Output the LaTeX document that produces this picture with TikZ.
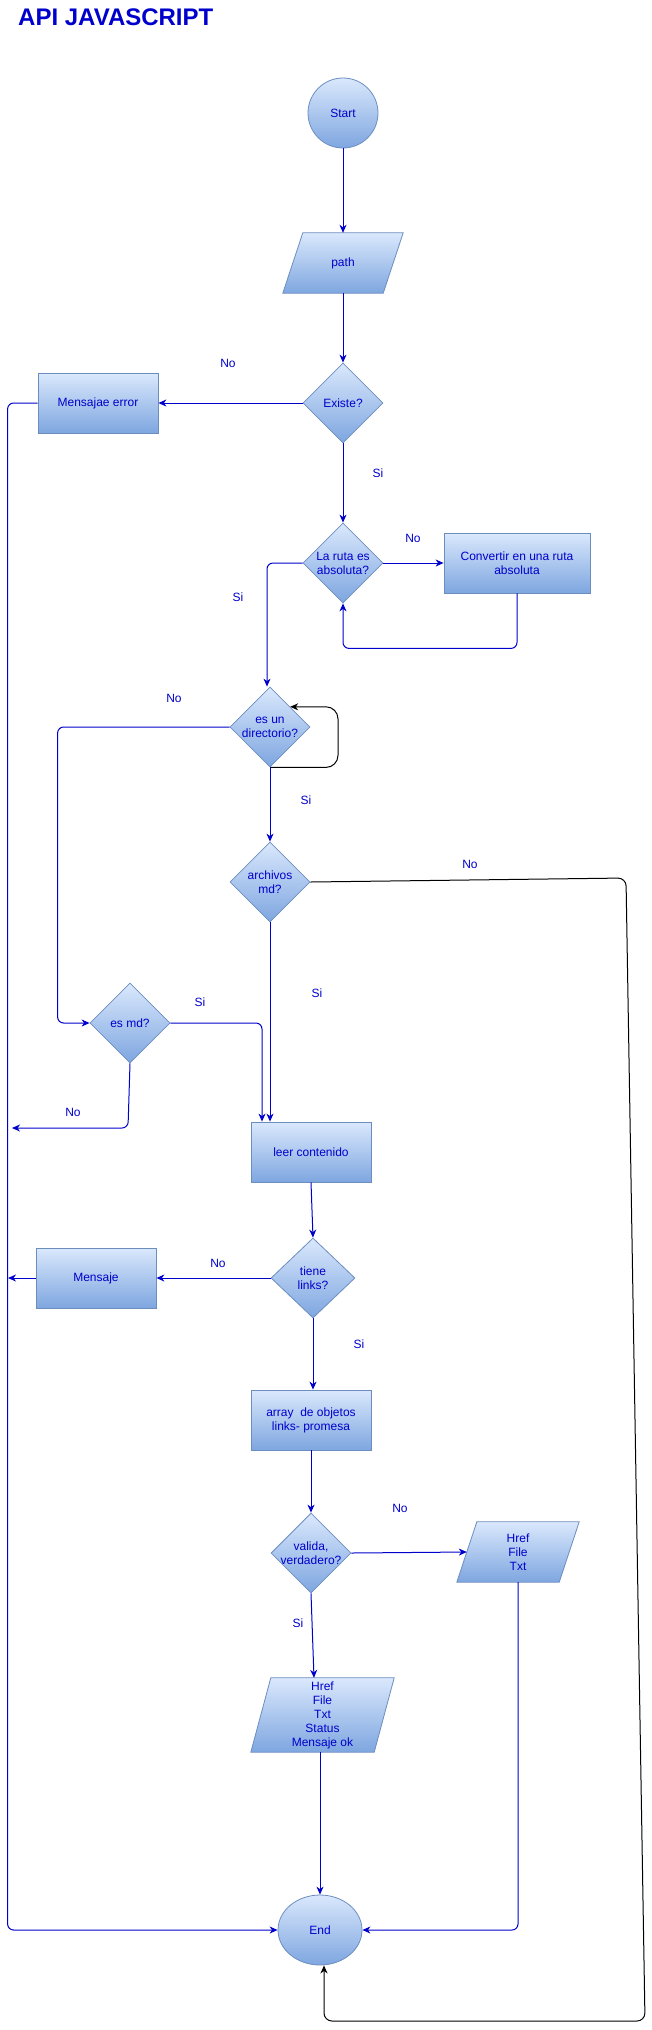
\documentclass[tikz,border=0pt]{standalone}
\usepackage{fontspec}
\setmainfont{Liberation Sans}
\usetikzlibrary{shapes.geometric,arrows.meta,calc,backgrounds}
\definecolor{lc}{HTML}{0000CC}
\definecolor{sk}{HTML}{6C8EBF}
\definecolor{gt}{HTML}{DAE8FC}
\definecolor{gb}{HTML}{7EA6E0}
\newcommand{\parashape}[2]{%
  \begin{scope}[on background layer]
  \shade[top color=gt,bottom color=gb,draw=sk,line width=0.8pt]
    ($(#1.south west)+(-#2/2,0)$) -- ($(#1.north west)+(#2/2,0)$) --
    ($(#1.north east)+(#2/2,0)$) -- ($(#1.south east)+(-#2/2,0)$) -- cycle;
  \end{scope}}
\begin{document}
\begin{tikzpicture}[x=1pt,y=-1pt,
  shp/.style={draw=sk, line width=0.8pt, top color=gt, bottom color=gb, text=lc,
              font=\fontsize{12}{14}\selectfont, align=center, inner sep=0pt},
  proc/.style={shp, rectangle, minimum width=120pt, minimum height=60pt},
  dec/.style={shp, diamond, minimum width=80pt, minimum height=80pt},
  iobox/.style={rectangle, draw=none, text=lc, font=\fontsize{12}{14}\selectfont, align=center, inner sep=0pt},
  txt/.style={text=lc, font=\fontsize{12}{14}\selectfont, align=center, inner sep=0pt},
  flow/.style={draw=lc, line width=1pt, rounded corners=6pt, -{Stealth[length=8pt,width=7pt,inset=2.5pt]}},
  bflow/.style={draw=black, line width=1pt, rounded corners=8pt, -{Stealth[length=8pt,width=7pt,inset=2.5pt]}}]
\useasboundingbox (0,0) rectangle (651,2030);

% title
\node[anchor=base west, inner sep=0pt, text=lc, font=\fontsize{24}{28}\selectfont\bfseries] (title) at (18,25) {API JAVASCRIPT};

% shapes
\node[shp, circle, minimum size=70pt] (start) at (343,113) {Start};
\node[iobox, minimum width=100pt, minimum height=60pt] (path) at (343,263) {path};
\parashape{path}{20}
\node[dec, label={[txt]center:Existe?}] (ex) at (343,403) {};
\node[proc] (merr) at (98,403) {Mensajae error};
\node[dec, label={[txt]center:{La ruta es\\absoluta?}}] (ruta) at (343,563) {};
\node[proc, minimum width=146pt] (conv) at (517,563) {Convertir en una ruta\\absoluta};
\node[dec, label={[txt]center:{es un\\directorio?}}] (dir) at (270,727) {};
\node[dec, label={[txt]center:{archivos\\md?}}] (arch) at (270,882) {};
\node[dec, label={[txt]center:{es md?}}] (esmd) at (130,1023) {};
\node[proc] (leer) at (311,1152) {leer contenido};
\node[dec, minimum width=84pt, label={[txt]center:{tiene\\links?}}] (links) at (313,1278) {};
\node[proc] (msg) at (96,1278) {Mensaje};
\node[proc] (arr) at (311,1420) {array~~de objetos\\links- promesa};
\node[dec, label={[txt]center:{valida,\\verdadero?}}] (val) at (311,1553) {};
\node[iobox, minimum width=102pt, minimum height=60pt] (hra) at (518,1552) {Href\\File\\Txt};
\parashape{hra}{20}
\node[iobox, minimum width=123pt, minimum height=74pt] (hrb) at (322.5,1715) {Href\\File\\Txt\\Status\\Mensaje ok};
\parashape{hrb}{20}
\node[shp, ellipse, minimum width=84pt, minimum height=70pt] (endn) at (320,1930) {End};

% free ends
\coordinate (mdno) at (12,1128);
\coordinate (msgL) at (8,1278);

% labels
\node[txt] (l1) at (228,363) {No};
\node[txt] (l2) at (378,473) {Si};
\node[txt] (l3) at (413,538) {No};
\node[txt] (l4) at (238,597) {Si};
\node[txt] (l5) at (174,698) {No};
\node[txt] (l6) at (306,800) {Si};
\node[txt] (l7) at (470,864) {No};
\node[txt] (l8) at (200,1002) {Si};
\node[txt] (l9) at (317,993) {Si};
\node[txt] (l10) at (73,1112) {No};
\node[txt] (l11) at (218,1263) {No};
\node[txt] (l12) at (359,1344) {Si};
\node[txt] (l13) at (400,1508) {No};
\node[txt] (l14) at (298,1623) {Si};

% connectors
\draw[flow] (start) -- (path);
\draw[flow] (path) -- (ex);
\draw[flow] (ex.west) -- (merr.east);
\draw[flow] (merr.west) -- ++(-30,0) |- (endn.west);
\draw[flow] (ex.south) -- (ruta.north);
\draw[flow] (ruta.east) -- (conv.west);
\draw[flow] (conv.south) -- ++(0,55) -| (ruta.south);
\draw[flow] (ruta.west) -| ($(dir.north)+(-3,0)$);
\draw[flow] (dir.west) -- ++(-172,0) |- (esmd.west);
\draw[bflow, rounded corners=12pt] (dir.south) -- ++(68,0) |- (dir.north east);
\draw[flow] (dir.south) -- (arch.north);
\draw[bflow] (arch.east) -- (626,878) -- (645,2021) -| ($(endn.south)+(4,0)$);
\draw[flow] (arch.south) -- (arch.south |- leer.north);
\draw[flow] (esmd.east) -| ($(arch.south |- leer.north)+(-8,0)$);
\draw[flow] (esmd.south) -- (128,1128) -- (mdno);
\draw[flow] (leer.south) -- (links.north);
\draw[flow] (links.west) -- (msg.east);
\draw[flow] (msg.west) -- (msgL);
\draw[flow] (links.south) -- (links.south |- arr.north);
\draw[flow] (arr.south) -- (arr.south |- val.north);
\draw[flow] (val.east) -- (hra.west);
\draw[flow] (hra.south) |- (endn.east);
\draw[flow] (val.south) -- ($(val.south |- hrb.north)+(3,0)$);
\draw[flow] (endn.north |- hrb.south) -- (endn.north);
\end{tikzpicture}
\end{document}
